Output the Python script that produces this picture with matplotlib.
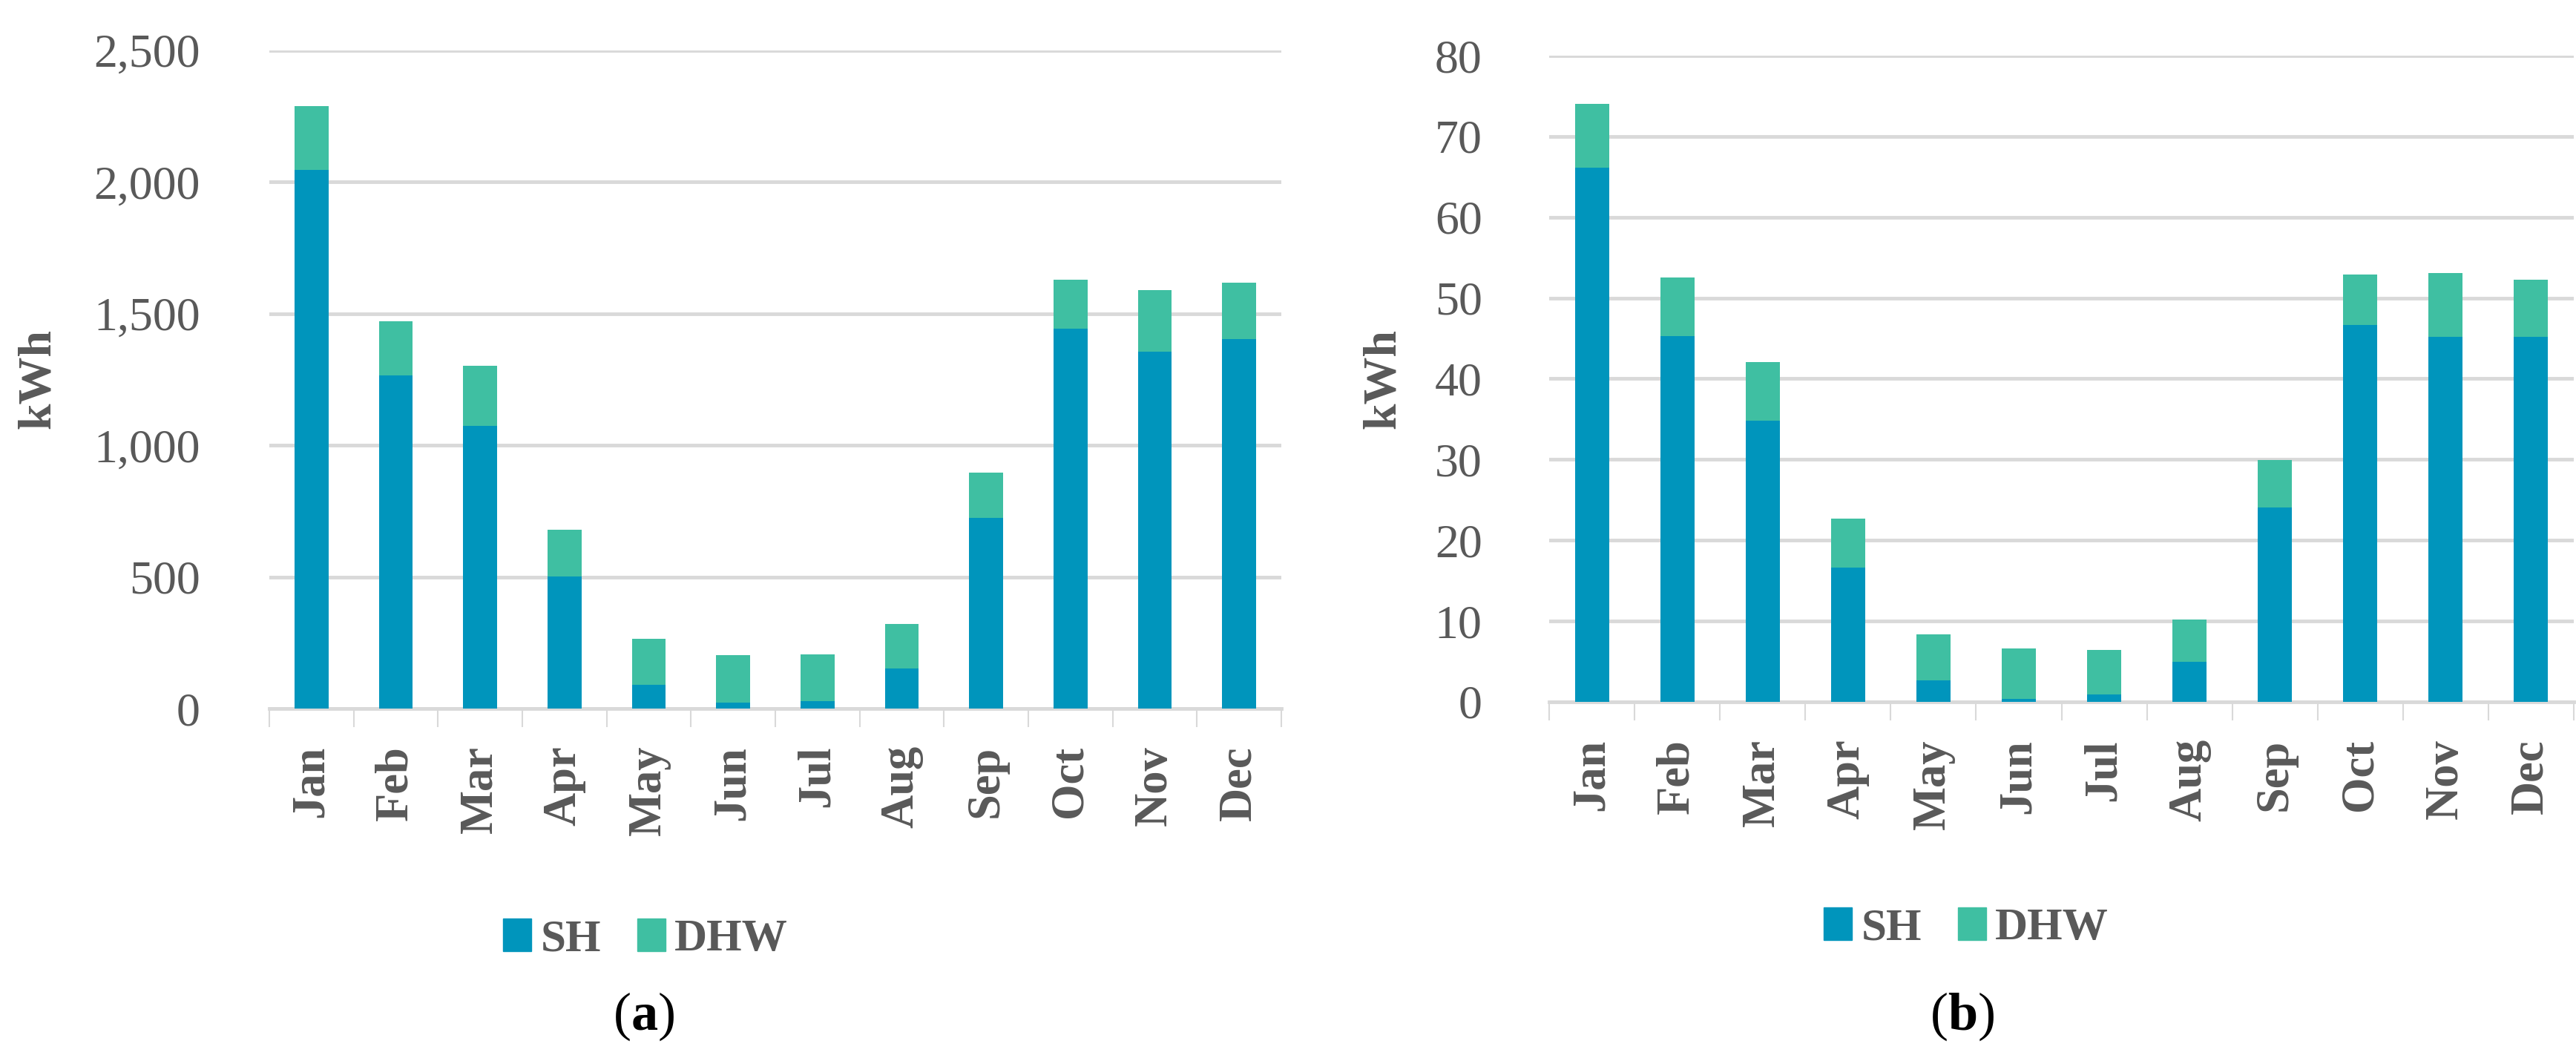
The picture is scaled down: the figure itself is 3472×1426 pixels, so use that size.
import matplotlib
matplotlib.use("Agg")
import matplotlib.pyplot as plt
from matplotlib.patches import Patch
from matplotlib.ticker import FuncFormatter, FixedLocator

plt.rcParams['font.family'] = ['Liberation Serif', 'DejaVu Serif']
plt.rcParams['mathtext.fontset'] = 'custom'
plt.rcParams['mathtext.rm'] = 'Liberation Serif'
plt.rcParams['mathtext.bf'] = 'Liberation Serif:bold'

months = ['Jan', 'Feb', 'Mar', 'Apr', 'May', 'Jun',
          'Jul', 'Aug', 'Sep', 'Oct', 'Nov', 'Dec']

# panel (a)
sh_a = [2045, 1265, 1075, 502, 91, 23, 28, 153, 725, 1443, 1356, 1404]
total_a = [2290, 1471, 1302, 679, 264, 202, 205, 321, 897, 1630, 1590, 1618]
dhw_a = [t - s for t, s in zip(total_a, sh_a)]

# panel (b)
sh_b = [66.1, 45.3, 34.8, 16.6, 2.7, 0.4, 0.9, 5.0, 24.1, 46.7, 45.2, 45.2]
total_b = [74.0, 52.5, 42.1, 22.7, 8.4, 6.6, 6.4, 10.2, 29.9, 52.9, 53.1, 52.3]
dhw_b = [t - s for t, s in zip(total_b, sh_b)]

SH_COLOR = '#0095BC'
DHW_COLOR = '#3FBFA2'
GRID = '#D9D9D9'
TXT = '#595959'
W, H = 3472, 1426

fig = plt.figure(figsize=(W / 100, H / 100), dpi=100)


def panel(rect, sh, dhw, ymax, step, fmt, ypad):
    ax = fig.add_axes(rect)
    x = list(range(len(months)))
    ax.bar(x, sh, width=0.4, color=SH_COLOR, zorder=3)
    ax.bar(x, dhw, width=0.4, bottom=sh, color=DHW_COLOR, zorder=3)
    ax.set_xlim(-0.5, len(months) - 0.5)
    ax.set_ylim(0, ymax)
    ax.set_yticks(list(range(0, ymax + 1, step)))
    ax.yaxis.set_major_formatter(FuncFormatter(fmt))
    ax.grid(axis='y', color=GRID, linewidth=3.5, zorder=0)
    for s in ['top', 'right', 'left']:
        ax.spines[s].set_visible(False)
    ax.spines['bottom'].set_color(GRID)
    ax.spines['bottom'].set_linewidth(3.5)
    ax.set_xticks(x)
    ax.set_xticklabels(months, rotation=90, fontsize=45, fontweight='bold', color=TXT)
    ax.xaxis.set_minor_locator(FixedLocator([i - 0.5 for i in range(len(months) + 1)]))
    ax.tick_params(axis='x', which='major', length=0, pad=36)
    ax.tick_params(axis='x', which='minor', length=18, width=1.5, color=GRID)
    ax.tick_params(axis='y', length=0, pad=ypad, labelsize=46, labelcolor=TXT)
    return ax


ax1 = panel([363 / W, 1 - 955 / H, 1364 / W, 887 / H], sh_a, dhw_a, 2500, 500,
            lambda v, p: f'{int(v):,}', 67)
ax2 = panel([2088 / W, 1 - 946 / H, 1381 / W, 871 / H], sh_b, dhw_b, 80, 10,
            lambda v, p: f'{int(v)}', 65)

fig.text(52 / W, 1 - 510 / H, 'kWh', rotation=90, ha='center', va='center',
         fontsize=46, fontweight='bold', color=TXT)
fig.text(1865 / W, 1 - 510 / H, 'kWh', rotation=90, ha='center', va='center',
         fontsize=46, fontweight='bold', color=TXT)

handles = [Patch(color=SH_COLOR, label='SH'), Patch(color=DHW_COLOR, label='DHW')]
for cx, cy in [(870 / W, 1 - 1266 / H), (2650 / W, 1 - 1251 / H)]:
    fig.legend(handles=handles, loc='center', bbox_to_anchor=(cx, cy), ncol=2,
               frameon=False, handlelength=0.62, handleheight=0.75,
               handletextpad=0.2, columnspacing=0.8, labelcolor=TXT,
               prop={'weight': 'bold', 'size': 44})

fig.text(868 / W, 1 - 1370 / H, r'($\mathbf{a}$)', ha='center', va='center',
         fontsize=52, color='black')
fig.text(2645 / W, 1 - 1370 / H, r'($\mathbf{b}$)', ha='center', va='center',
         fontsize=52, color='black')

fig.savefig('out.png', dpi=100)
